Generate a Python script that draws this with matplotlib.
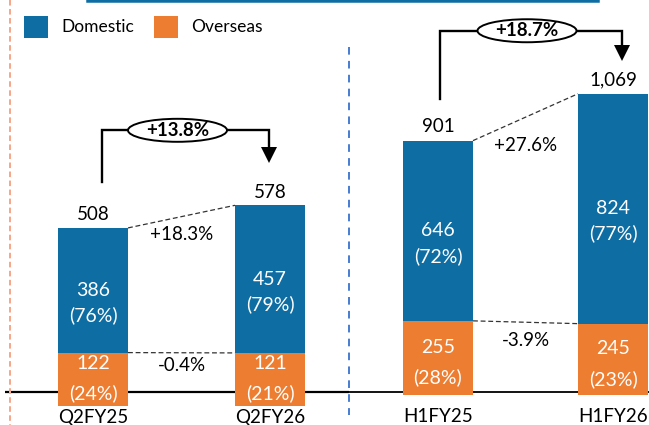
import matplotlib
matplotlib.use("Agg")
import matplotlib.pyplot as plt
from matplotlib.patches import Ellipse, Rectangle
from matplotlib.lines import Line2D

plt.rcParams['font.family'] = ['Lato', 'DejaVu Sans']
plt.rcParams['lines.scale_dashes'] = False

# ---------------- data ----------------
q_periods = ["Q2FY25", "Q2FY26"]
q_domestic = [386, 457]
q_overseas = [122, 121]
q_dom_share = ["(76%)", "(79%)"]
q_ovs_share = ["(24%)", "(21%)"]
q_total_growth = "+13.8%"
q_dom_growth = "+18.3%"
q_ovs_growth = "-0.4%"

h_periods = ["H1FY25", "H1FY26"]
h_domestic = [646, 824]
h_overseas = [255, 245]
h_dom_share = ["(72%)", "(77%)"]
h_ovs_share = ["(28%)", "(23%)"]
h_total_growth = "+18.7%"
h_dom_growth = "+27.6%"
h_ovs_growth = "-3.9%"

legend_labels = ["Domestic", "Overseas"]

# ---------------- style ----------------
BLUE = "#0E6DA3"
ORANGE = "#ED7D31"
W, H = 649, 425
BASE_Y = 392          # baseline, px from top
PT = 0.72             # points per pixel at dpi 100

fig = plt.figure(figsize=(W / 100, H / 100), dpi=100)


def panel(px_left, px_right, centers_px, k, bw_px, ovh_px, periods, domestic, overseas,
          dom_share, ovs_share, total_growth, dom_growth, ovs_growth, st):
    ax = fig.add_axes([px_left / W, 0, (px_right - px_left) / W, 1])
    sx = centers_px[1] - centers_px[0]
    c0 = centers_px[0] - px_left
    ax.set_xlim(-c0 / sx, (px_right - px_left - c0) / sx)
    ax.set_ylim(-(H - BASE_Y) / k, BASE_Y / k)
    ax.axis("off")
    x = [0, 1]
    bw = bw_px / sx
    totals = [d + o for d, o in zip(domestic, overseas)]

    # baseline
    x0, x1 = ax.get_xlim()
    ax.plot([x0 + st["base_l"] / sx, x1], [0, 0], color="black", lw=st["base_lw"], zorder=1,
            solid_capstyle="butt")

    # bars
    ovh = ovh_px / k
    ax.bar(x, [o + ovh for o in overseas], bottom=-ovh, width=bw, color=ORANGE, zorder=2)
    ax.bar(x, domestic, bottom=overseas, width=bw, color=BLUE, zorder=2)

    for i in x:
        ax.annotate(f"{totals[i]:,}", (x[i], totals[i]), xytext=(0, st["tot_off"] * PT),
                    textcoords="offset points", ha="center", va="center", fontsize=13.5)
        cd = overseas[i] + domestic[i] / 2
        ax.annotate(f"{domestic[i]}", (x[i], cd), xytext=(0, 0), textcoords="offset points",
                    ha="center", va="center", fontsize=14, color="white", zorder=5)
        ax.annotate(dom_share[i], (x[i], cd), xytext=(0, -25 * PT), textcoords="offset points",
                    ha="center", va="center", fontsize=14, color="white", zorder=5)
        co = overseas[i] / 2
        ax.annotate(f"{overseas[i]}", (x[i], co), xytext=(0, 9 * PT), textcoords="offset points",
                    ha="center", va="center", fontsize=14, color="white", zorder=5)
        ax.annotate(ovs_share[i], (x[i], co), xytext=(0, -21 * PT), textcoords="offset points",
                    ha="center", va="center", fontsize=14, color="white", zorder=5)
        ax.annotate(periods[i], (x[i], 0), xytext=(0, -st["cat_off"] * PT),
                    textcoords="offset points", ha="center", va="center", fontsize=13.5)

    # dashed connectors
    dash = dict(color="#333333", lw=0.9, ls=(0, (3.5, 2)), zorder=3)
    ax.plot([x[0] + bw / 2, x[1] - bw / 2], [totals[0], totals[1]], **dash)
    ax.plot([x[0] + bw / 2, x[1] - bw / 2], [overseas[0], overseas[1]], **dash)

    # growth labels
    ax.annotate(dom_growth, (0.5, totals[0]), xytext=(0, -st["dg_off"] * PT),
                textcoords="offset points", ha="center", va="center", fontsize=13.5)
    ax.annotate(ovs_growth, (0.5, overseas[0]), xytext=(0, -st["og_off"] * PT),
                textcoords="offset points", ha="center", va="center", fontsize=13.5)

    # bracket with arrow
    xs = x[0] + st["dx0"] / sx
    xt = x[1] + st["dx1"] / sx
    y_start = totals[0] + st["gap_start"] / k
    y_tip = totals[1] + st["gap_tip"] / k
    y_top = y_tip + st["rise"] / k
    head = 16
    ax.plot([xs, xs, xt, xt], [y_start, y_top, y_top, y_tip + head / k], color="black",
            lw=1.7, zorder=3, solid_joinstyle="miter")
    ax.plot([xt], [y_tip + head / 2 / k], marker="v", ms=16 * PT, color="black",
            mec="black", mew=0, zorder=3)
    xm = (xs + xt) / 2 + st["ell_dx"] / sx
    ax.add_patch(Ellipse((xm, y_top), width=99 / sx, height=23 / k, fc="white", ec="black",
                         lw=1.4, zorder=4))
    ax.text(xm, y_top, total_growth, ha="center", va="center", fontsize=13.5,
            fontweight="bold", zorder=5)
    return ax


panel(0, 349, [93, 270], 0.323, 70, 14, q_periods, q_domestic, q_overseas,
      q_dom_share, q_ovs_share, q_total_growth, q_dom_growth, q_ovs_growth,
      dict(base_l=5, base_lw=1.6, tot_off=13, cat_off=26, dg_off=7, og_off=13,
           dx0=9, dx1=-1, gap_start=46, gap_tip=42, rise=33, ell_dx=-8))
panel(349, 649, [438, 613], 0.279, 70, 3, h_periods, h_domestic, h_overseas,
      h_dom_share, h_ovs_share, h_total_growth, h_dom_growth, h_ovs_growth,
      dict(base_l=0, base_lw=1.3, tot_off=14, cat_off=24, dg_off=5, og_off=20,
           dx0=2, dx1=9, gap_start=42, gap_tip=33, rise=30, ell_dx=-4))

# ---------------- figure-level decoration ----------------
def fx(px):
    return px / W


def fy(py):
    return 1 - py / H


fig.add_artist(Line2D([fx(88), fx(598)], [fy(1), fy(1)], color=BLUE, lw=3.5 * PT))
fig.add_artist(Line2D([fx(10), fx(10)], [fy(0), fy(425)], color="#F7A88B", lw=2 * PT,
                      ls=(0, (4, 2.5))))
fig.add_artist(Line2D([fx(348.5), fx(348.5)], [fy(47), fy(415)], color="#4A7FD4", lw=2 * PT,
                      ls=(0, (5.5, 4.5))))

legend_colors = [BLUE, ORANGE]
legend_x = [24, 154]
for lbl, col, lx in zip(legend_labels, legend_colors, legend_x):
    fig.add_artist(Rectangle((fx(lx), fy(38)), 24 / W, 22 / H, transform=fig.transFigure,
                             fc=col, ec="none"))
    fig.text(fx(lx + 37), fy(27), lbl, ha="left", va="center", fontsize=12.5)

fig.savefig("out.png", dpi=100)
